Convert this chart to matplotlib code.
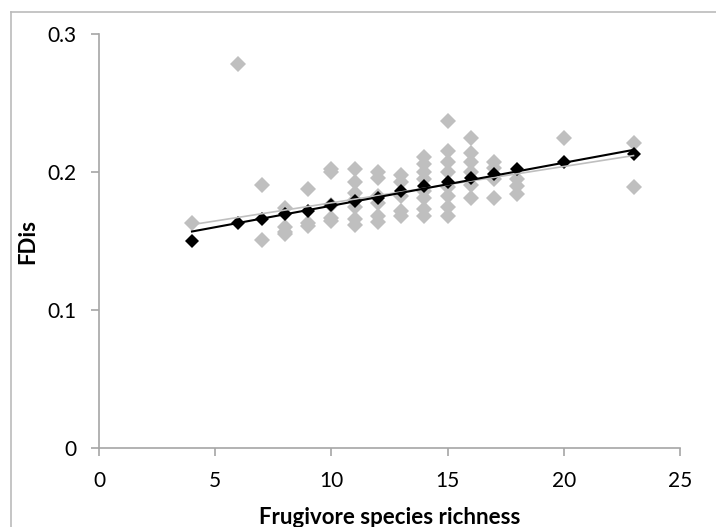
import numpy as np
import matplotlib.pyplot as plt
from matplotlib.lines import Line2D

# observed FDis values (grey diamonds)
obs_x = [4,
         6,
         7, 7,
         8, 8, 8, 8,
         9, 9, 9,
         10, 10, 10, 10, 10,
         11, 11, 11, 11, 11, 11, 11,
         12, 12, 12, 12, 12, 12,
         13, 13, 13, 13, 13,
         14, 14, 14, 14, 14, 14, 14, 14,
         15, 15, 15, 15, 15, 15, 15, 15,
         16, 16, 16, 16, 16, 16,
         17, 17, 17, 17,
         18, 18, 18,
         20,
         23, 23]
obs_y = [0.163,
         0.278,
         0.191, 0.151,
         0.174, 0.160, 0.157, 0.155,
         0.188, 0.161, 0.163,
         0.200, 0.202, 0.165, 0.167, 0.176,
         0.202, 0.193, 0.185, 0.166, 0.162, 0.175, 0.180,
         0.200, 0.196, 0.168, 0.164, 0.183, 0.178,
         0.198, 0.193, 0.183, 0.172, 0.168,
         0.211, 0.206, 0.200, 0.195, 0.186, 0.181, 0.173, 0.168,
         0.237, 0.215, 0.207, 0.200, 0.189, 0.183, 0.175, 0.168,
         0.225, 0.214, 0.207, 0.191, 0.181, 0.200,
         0.207, 0.195, 0.181, 0.203,
         0.195, 0.184, 0.190,
         0.225,
         0.221, 0.189]

# predicted FDis values (black diamonds)
pred_x = [4, 6, 7, 8, 9, 10, 11, 12, 13, 14, 15, 16, 17, 18, 20, 23]
pred_y = [0.150, 0.163, 0.166, 0.170, 0.172, 0.176, 0.179, 0.181,
          0.186, 0.190, 0.193, 0.196, 0.199, 0.202, 0.207, 0.213]

# linear trend lines (intercept, slope)
pred_fit = (0.1446, 0.00311)
obs_fit = (0.1515, 0.00263)
fit_range = [4, 23]

plt.rcParams['font.family'] = ['Lato', 'DejaVu Sans']

fig = plt.figure(figsize=(7.16, 5.27), dpi=100)
ax = fig.add_axes([0.1383, 0.1490, 0.8114, 0.7865])

gray = '#bfbfbf'
axis_col = '#a6a6a6'

ax.plot(obs_x, obs_y, 'D', color=gray, markersize=8.2, markeredgewidth=0, zorder=2)
ax.plot(pred_x, pred_y, 'D', color='black', markersize=7.4, markeredgewidth=0, zorder=3)

xf = np.array(fit_range)
ax.plot(xf, obs_fit[0] + obs_fit[1] * xf, color=gray, lw=1.2, zorder=4)
ax.plot(xf, pred_fit[0] + pred_fit[1] * xf, color='black', lw=1.5, zorder=5)

ax.set_xlim(0, 25)
ax.set_ylim(0, 0.3)
ax.set_xticks([0, 5, 10, 15, 20, 25])
ax.set_yticks([0, 0.1, 0.2, 0.3])
ax.set_yticklabels(['0', '0.1', '0.2', '0.3'])

for side in ['top', 'right']:
    ax.spines[side].set_visible(False)
for side in ['left', 'bottom']:
    ax.spines[side].set_color(axis_col)
    ax.spines[side].set_linewidth(1.2)

ax.tick_params(axis='both', direction='out', length=5.5, width=1.2, color=axis_col,
               labelsize=15, labelcolor='black')
ax.tick_params(axis='y', pad=11)
ax.tick_params(axis='x', pad=11)

ax.set_xlabel('Frugivore species richness', fontsize=16, fontweight='bold', labelpad=11)
ax.set_ylabel('FDis', fontsize=16, fontweight='bold', labelpad=6)

# outer chart frame
fig.add_artist(Line2D([11 / 716, 11 / 716], [0, 1 - 12 / 527], transform=fig.transFigure,
                      color='#bbbbbb', lw=1.2))
fig.add_artist(Line2D([11 / 716, 1], [1 - 12 / 527, 1 - 12 / 527], transform=fig.transFigure,
                      color='#bbbbbb', lw=1.2))

fig.savefig('out.png', dpi=100)
